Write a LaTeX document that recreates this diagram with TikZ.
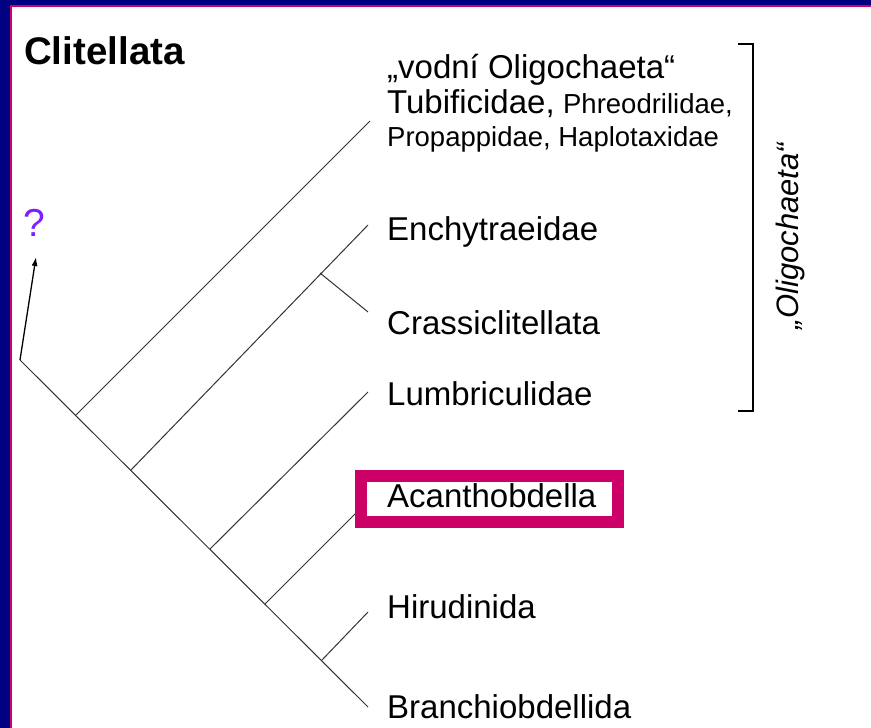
\documentclass[tikz,border=0pt]{standalone}
\usepackage{fontspec}
\setmainfont{Liberation Sans}
\usetikzlibrary{positioning,arrows.meta}
\definecolor{frameblue}{HTML}{000080}
\definecolor{framepink}{HTML}{CC0066}
\definecolor{askviolet}{HTML}{7F1FFF}
\definecolor{treegray}{HTML}{333333}

\begin{document}
\begin{tikzpicture}[x=1pt,y=-1pt,
    taxon/.style={inner sep=0pt, anchor=base west, font=\fontsize{33}{38}\selectfont},
    minortaxon/.style={inner sep=0pt, anchor=base west, font=\fontsize{27.5}{32}\selectfont},
    branch/.style={draw=treegray, line width=1pt}]
    \useasboundingbox (0,0) rectangle (871,728);
    \fill[white] (0,0) rectangle (871,728);
    % frame
    \fill[frameblue] (0,0) rectangle (871,5);
    \fill[frameblue] (0,0) rectangle (10,728);
    \fill[framepink] (10,5) rectangle (871,7);
    \fill[framepink] (10,5) rectangle (12,728);

    \node[inner sep=0pt, anchor=base west, font=\fontsize{38.5}{44}\selectfont\bfseries] (title) at (24,64) {Clitellata};

    % tree
    \coordinate (root) at (20,360);
    \coordinate (j1) at (76,415);
    \coordinate (j2) at (131,470);
    \coordinate (j3) at (210,549);
    \coordinate (j4) at (265,604);
    \coordinate (j5) at (322,660);
    \coordinate (je) at (320,273);
    \coordinate (tvod) at (370,121);
    \coordinate (tench) at (368,225);
    \coordinate (tcras) at (368,312);
    \coordinate (tlumb) at (368,392);
    \coordinate (tacan) at (367,502);
    \coordinate (thiru) at (368,612);
    \coordinate (tbran) at (368,707);

    \draw[branch] (root) -- (tbran);
    \draw[branch] (j1) -- (tvod);
    \draw[branch] (j2) -- (tench);
    \draw[branch] (je) -- (tcras);
    \draw[branch] (j3) -- (tlumb);
    \draw[branch] (j4) -- (tacan);
    \draw[branch] (j5) -- (thiru);

    % question mark
    \node[inner sep=0pt, text=askviolet, font=\fontsize{39}{44}\selectfont] (ask) at (34,223) {?};
    \coordinate (asktip) at (36,257);
    \draw[-{Latex[length=9pt,width=6pt]}, line width=1.3pt] (root) -- (asktip);

    % labels
    \node[taxon] (vod) at (387,78) {„vodní Oligochaeta“};
    \node[taxon] (tub) at (387,113) {Tubificidae,};
    \node[minortaxon, right=8pt of tub.base east, anchor=base west] (phr) {Phreodrilidae,};
    \node[minortaxon] (pro) at (387,146) {Propappidae, Haplotaxidae};
    \node[taxon] (ench) at (387,240) {Enchytraeidae};
    \node[taxon] (cras) at (387,334) {Crassiclitellata};
    \node[taxon] (lumb) at (387,405) {Lumbriculidae};
    \node[taxon] (acan) at (387,507) {Acanthobdella};
    \node[taxon] (hiru) at (387,618) {Hirudinida};
    \node[taxon] (bran) at (387,718) {Branchiobdellida};

    \node[draw=framepink, line width=12pt, inner sep=0pt, minimum width=257pt, minimum height=45.5pt] (acanbox) at (489,498.75) {};

    % bracket
    \coordinate (brtop) at (738,44);
    \coordinate (brbot) at (738,411);
    \draw[line width=1.3pt] (brtop) -- ++(15,0) |- (brbot);
    \node[rotate=90, inner sep=0pt, font=\fontsize{31}{35}\selectfont\itshape] (oligo) at (790,236) {„Oligochaeta“};
\end{tikzpicture}
\end{document}
